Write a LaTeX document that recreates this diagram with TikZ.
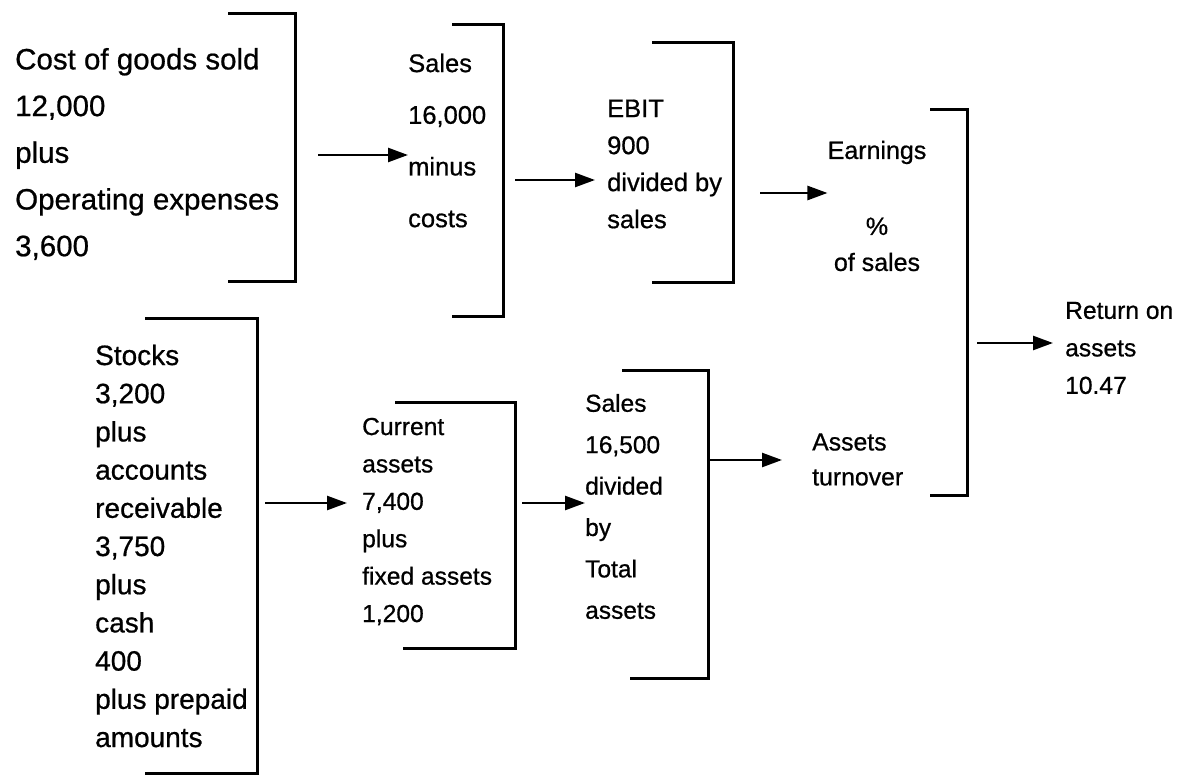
\documentclass[tikz,border=0pt]{standalone}
\usepackage{fontspec}
\setmainfont{Liberation Sans}[FakeBold=0.7]
\usetikzlibrary{arrows.meta}
\begin{document}
\begin{tikzpicture}[x=1pt,y=-1pt]
\tikzset{
  brk/.style={line width=3pt},
  arr/.style={line width=2.5pt,-{Triangle[length=20pt,width=14pt]}},
  lbl/.style={inner sep=0pt,align=left,anchor=west},
}
\useasboundingbox (0,0) rectangle (1177,775);
% text blocks
\node[lbl,font=\fontsize{29.5}{46.7}\selectfont] (cogs) at (15,154) {Cost of goods sold\\12,000\\plus\\Operating expenses\\3,600};
\node[lbl,font=\fontsize{25.5}{51.7}\selectfont] (sales) at (408,140.5) {Sales\\16,000\\minus\\costs};
\node[lbl,font=\fontsize{25.5}{37}\selectfont] (ebit) at (607,164) {EBIT\\900\\divided by\\sales};
\node[inner sep=0pt,align=center,font=\fontsize{25}{36}\selectfont] (earn) at (877,206) {Earnings\\[40pt]\%\\of sales};
\node[lbl,font=\fontsize{24.6}{37.5}\selectfont] (roa) at (1065,348) {Return on\\assets\\10.47};
\node[lbl,font=\fontsize{24.8}{35}\selectfont] (turn) at (812,459.5) {Assets\\turnover};
\node[lbl,font=\fontsize{28}{38.2}\selectfont] (stocks) at (95,546) {Stocks\\3,200\\plus\\accounts\\receivable\\3,750\\plus\\cash\\400\\plus prepaid\\amounts};
\node[lbl,font=\fontsize{24.6}{37.4}\selectfont] (cur) at (362,521.5) {Current\\assets\\7,400\\plus\\fixed assets\\1,200};
\node[lbl,font=\fontsize{24.5}{41.4}\selectfont] (tot) at (585,506.5) {Sales\\16,500\\divided\\by\\Total\\assets};
% brackets
\draw[brk] (228,14) -- (295,14) -- (295,282) -- (228,282);
\draw[brk] (452,25) -- (503,25) -- (503,317) -- (452,317);
\draw[brk] (652,43) -- (733,43) -- (733,283) -- (652,283);
\draw[brk] (930,110) -- (967,110) -- (967,495) -- (930,495);
\draw[brk] (395,402) -- (515,402) -- (515,648) -- (403,648);
\draw[brk] (622,370) -- (708,370) -- (708,678) -- (630,678);
\draw[brk] (145,319) -- (257,319) -- (257,773) -- (145,773);
% arrow starts
\coordinate (a1) at (318,155);
\coordinate (a2) at (515,180);
\coordinate (a3) at (760,193);
\coordinate (a4) at (977,343);
\coordinate (a5) at (710,460);
\coordinate (a6) at (522,503);
\coordinate (a7) at (265,503);
% arrows
\draw[arr] (a1) -- (sales.west |- a1);
\draw[arr,shorten >=12pt] (a2) -- (ebit.west |- a2);
\draw[arr] (a3) -- (earn.west |- a3);
\draw[arr,shorten >=12pt] (a4) -- (roa.west |- a4);
\draw[arr,shorten >=30pt] (a5) -- (turn.west |- a5);
\draw[arr] (a6) -- (tot.west |- a6);
\draw[arr,shorten >=15pt] (a7) -- (cur.west |- a7);
\end{tikzpicture}
\end{document}
